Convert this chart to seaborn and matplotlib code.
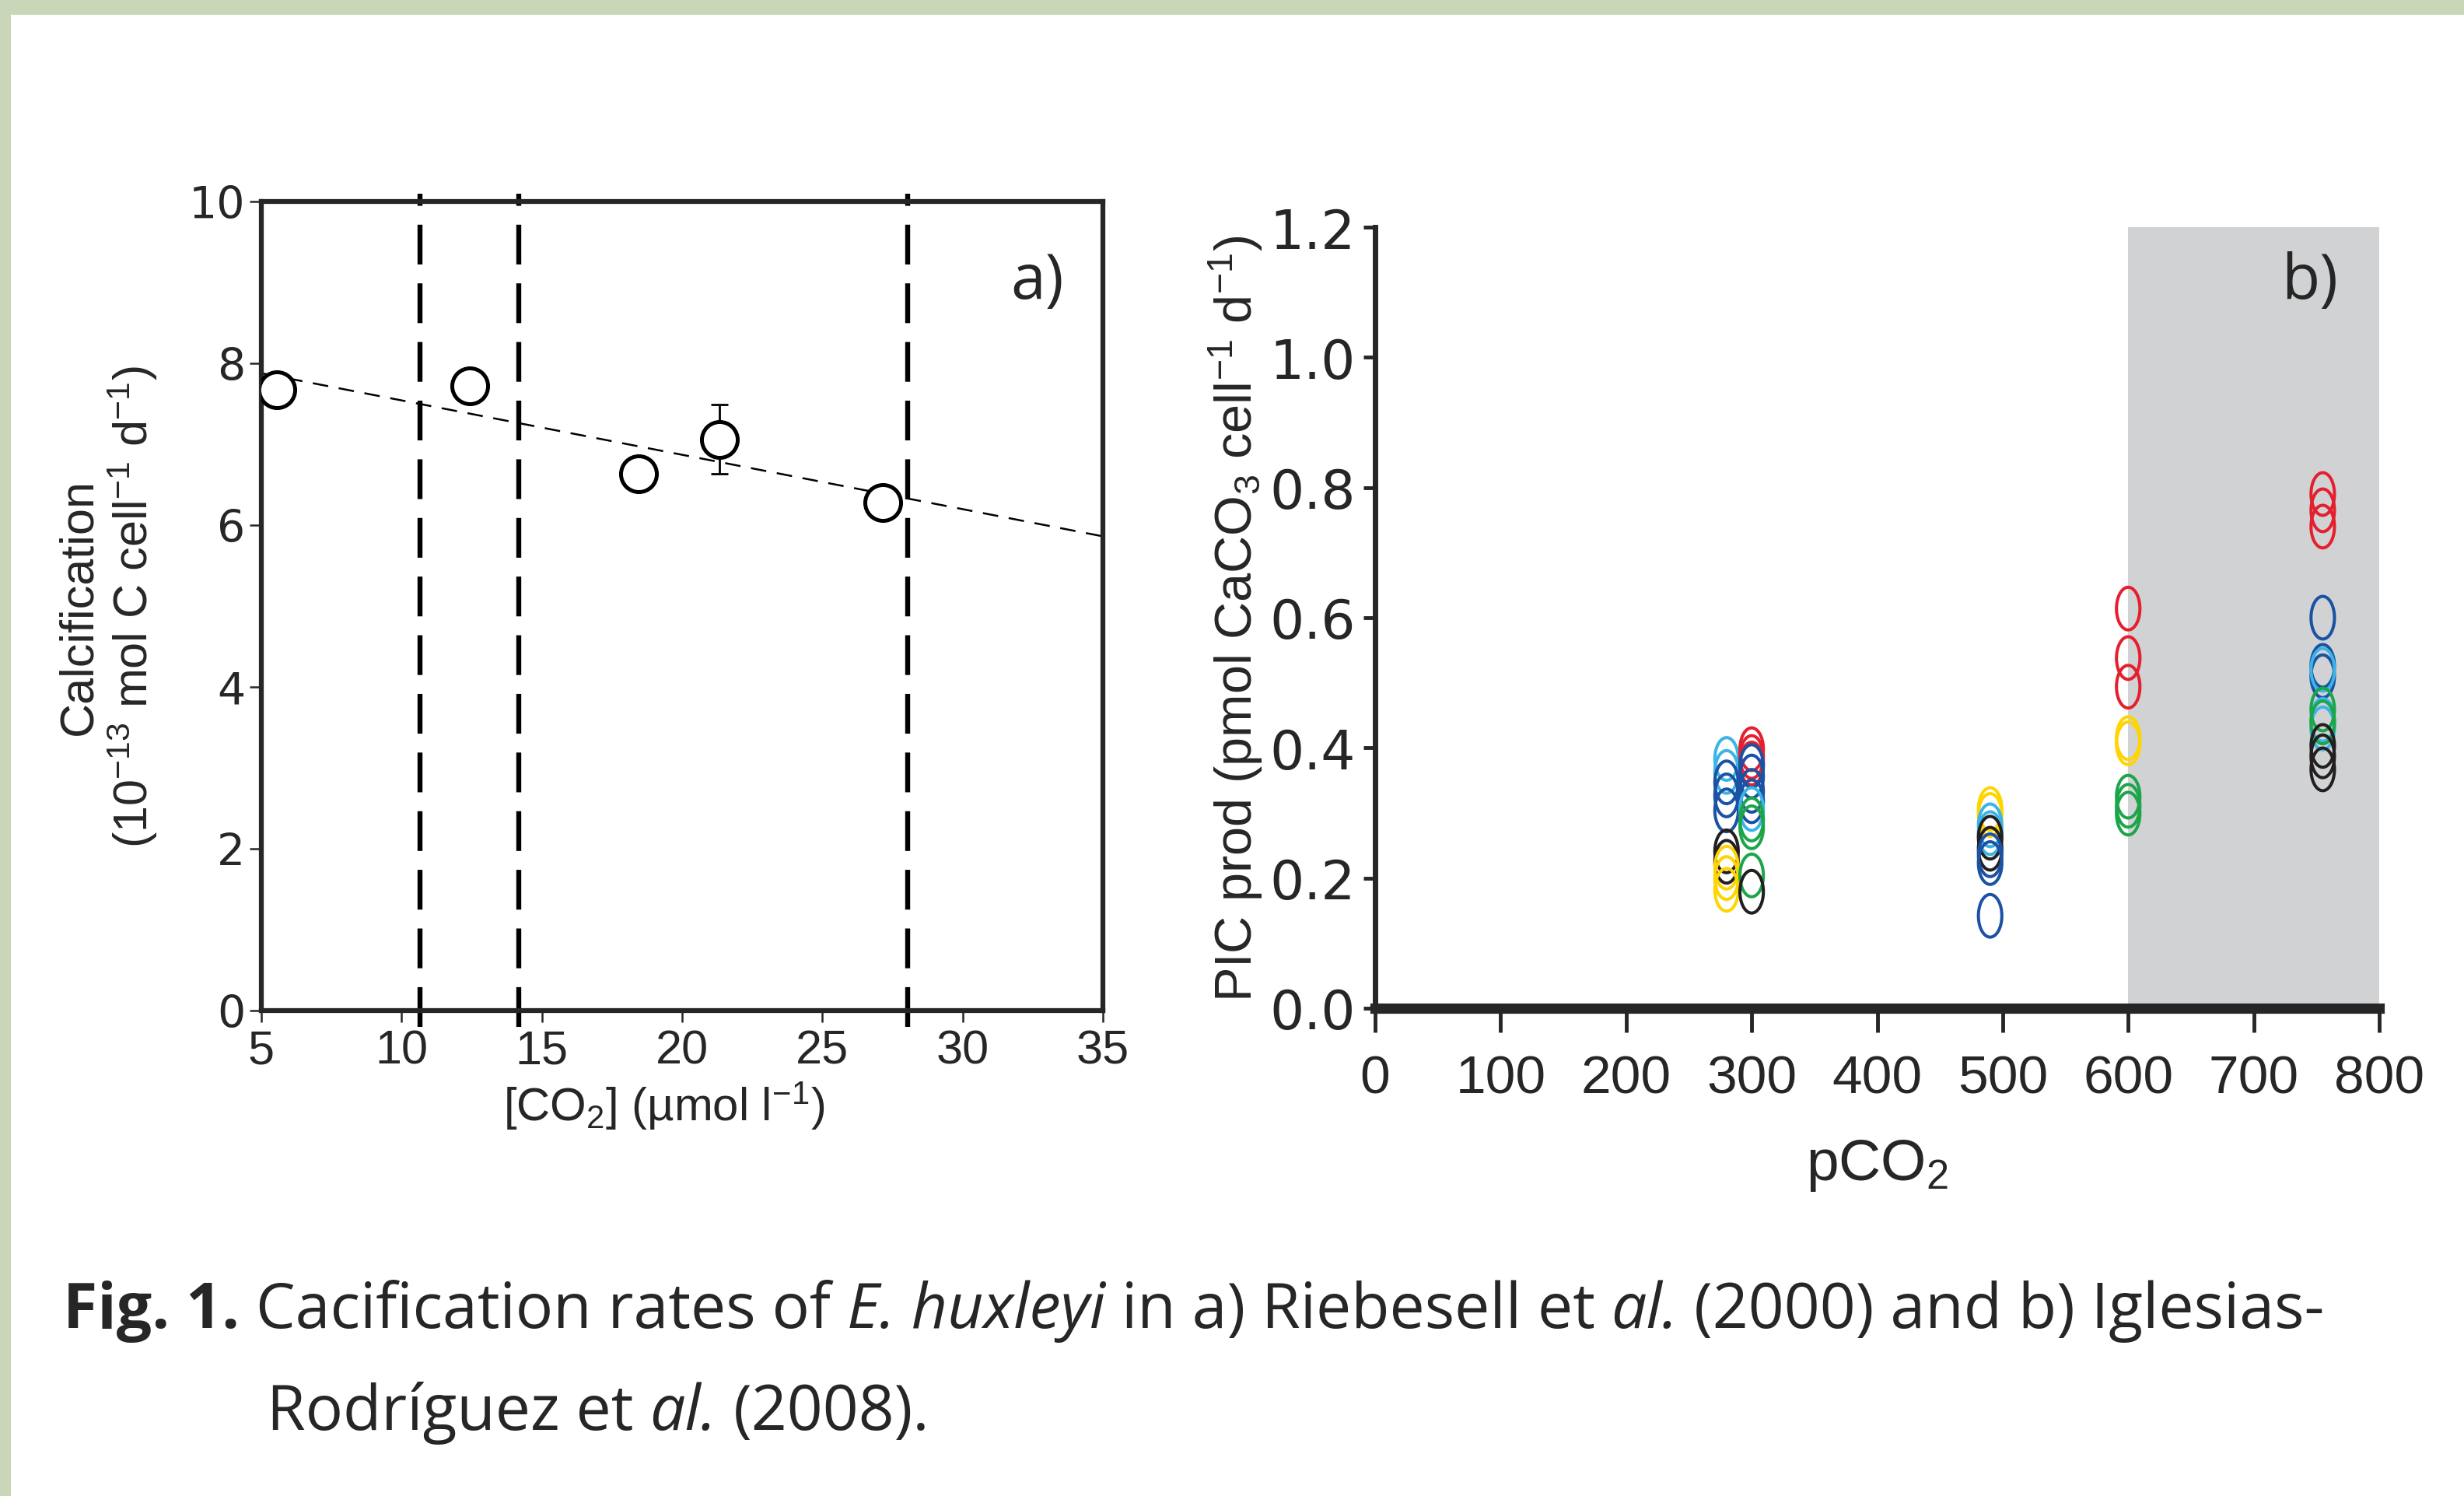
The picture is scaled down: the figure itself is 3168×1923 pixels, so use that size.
import numpy as np
import pandas as pd
import matplotlib
matplotlib.use("Agg")
import matplotlib.pyplot as plt
import seaborn as sns
from matplotlib.path import Path
from matplotlib.patches import Rectangle
from matplotlib import font_manager as fm

# Panel a: Riebesell et al. (2000)
co2_a = [5.56, 12.44, 18.44, 21.33, 27.16]
calc_a = [7.67, 7.72, 6.63, 7.06, 6.28]
err_a = [0, 0, 0, 0.43, 0]
cut_lines = [10.67, 14.18, 28.04]
a_xticks = [5, 10, 15, 20, 25, 30, 35]
a_yticks = [0, 2, 4, 6, 8, 10]

# Panel b: Iglesias-Rodriguez et al. (2008)
b_pco2 = [280, 280, 280, 280, 280, 280, 280, 280, 280, 280,
          300, 300, 300, 300, 300, 300, 300, 300, 300, 300, 300, 300,
          490, 490, 490, 490, 490, 490, 490, 490, 490,
          600, 600, 600, 600, 600, 600, 600, 600,
          755, 755, 755, 755, 755, 755, 755, 755, 755, 755, 755, 755, 755, 755]
b_pic = [0.383, 0.363, 0.347, 0.327, 0.304, 0.241, 0.225, 0.216, 0.200, 0.182,
         0.398, 0.386, 0.376, 0.372, 0.356, 0.334, 0.318, 0.306, 0.290, 0.278, 0.204, 0.179,
         0.306, 0.297, 0.281, 0.269, 0.262, 0.245, 0.235, 0.223, 0.142,
         0.614, 0.538, 0.494, 0.415, 0.407, 0.325, 0.311, 0.299,
         0.790, 0.765, 0.740, 0.600, 0.526, 0.510, 0.520, 0.443, 0.430, 0.459, 0.439, 0.403, 0.387, 0.367]
b_strain = ["lightblue", "lightblue", "blue", "blue", "blue", "black", "black", "yellow", "yellow", "yellow",
            "red", "red", "red", "blue", "blue", "blue", "blue", "lightblue", "green", "green", "green", "black",
            "yellow", "yellow", "lightblue", "lightblue", "black", "black", "blue", "blue", "blue",
            "red", "red", "red", "yellow", "yellow", "green", "green", "green",
            "red", "red", "red", "blue", "blue", "blue", "lightblue", "lightblue", "lightblue",
            "green", "green", "black", "black", "black"]
b_xticks = [0, 100, 200, 300, 400, 500, 600, 700, 800]
b_yticks = [0.0, 0.2, 0.4, 0.6, 0.8, 1.0, 1.2]

strain_colors = {"red": "#E5202E", "blue": "#1B52A4", "lightblue": "#3BB4E6",
                 "green": "#1DA54A", "yellow": "#FFD400", "black": "#231F20"}

sns.set_style("ticks")
installed = {f.name for f in fm.fontManager.ttflist}
narrow = "Liberation Sans Narrow" if "Liberation Sans Narrow" in installed else "Liberation Sans"
plt.rcParams["font.family"] = ["Liberation Sans", "DejaVu Sans"]
plt.rcParams["mathtext.fontset"] = "custom"
plt.rcParams["mathtext.rm"] = narrow
plt.rcParams["mathtext.it"] = narrow + ":italic"
cap_font = "Open Sans"

W, H = 3168, 1924
fig = plt.figure(figsize=(W / 100, H / 100), dpi=100)
fig.patch.set_facecolor("white")

# green frame of the page
green = "#C9D7B8"
fig.add_artist(Rectangle((0, 1 - 20 / H), 1, 20 / H, transform=fig.transFigure, color=green, lw=0))
fig.add_artist(Rectangle((0, 0), 14 / W, 1, transform=fig.transFigure, color=green, lw=0))

# ---------------- panel a ----------------
ax_a = fig.add_axes([336 / W, 1 - 1300 / H, 1082 / W, 1040 / H])
ax_a.set_xlim(5, 35)
ax_a.set_ylim(0, 10)
df_a = pd.DataFrame({"co2": co2_a, "calc": calc_a})

for xv in cut_lines:
    ax_a.axvline(xv, ymin=-0.02, ymax=1.01, color="black", lw=4.6,
                 ls=(0, (8, 3.8)), clip_on=False, zorder=1)

sns.regplot(data=df_a, x="co2", y="calc", ax=ax_a, ci=None, scatter=False,
            truncate=False, color="black",
            line_kws=dict(lw=1.8, ls=(0, (8, 5.5)), zorder=2))
ax_a.errorbar(co2_a, calc_a, yerr=err_a, fmt="none", ecolor="black",
              elinewidth=2, capsize=8, capthick=2, zorder=3)
sns.scatterplot(data=df_a, x="co2", y="calc", ax=ax_a, marker="o", s=1100,
                facecolor="white", edgecolor="black", linewidth=3.6, zorder=4)
ax_a.set_xlim(5, 35)
ax_a.set_ylim(0, 10)
ax_a.set_xticks(a_xticks)
ax_a.set_yticks(a_yticks)
for s in ax_a.spines.values():
    s.set_linewidth(4.5)
ax_a.tick_params(axis="y", direction="out", length=11, width=1.8, pad=4,
                 labelsize=41, labelfontfamily="DejaVu Sans")
ax_a.tick_params(axis="x", direction="out", length=11, width=1.8, pad=6,
                 labelsize=44)
ax_a.set_xlabel("[CO$_2$] (µmol l$^{-1}$)", fontsize=43)
ax_a.xaxis.set_label_coords(0.478, -0.085)
ax_a.set_ylabel("Calcification\n(10$^{-13}$ mol C cell$^{-1}$ d$^{-1}$)",
                fontsize=44, family=narrow, linespacing=1.1)
ax_a.yaxis.set_label_coords(-0.121, 0.5)
ax_a.text(0.954, 0.881, "a)", transform=ax_a.transAxes, ha="right",
          va="baseline", fontsize=58, family=cap_font)

# ---------------- panel b ----------------
ax_b = fig.add_axes([1768 / W, 1 - 1297 / H, 1291 / W, 1004 / H])
ax_b.axvspan(600, 800, color="#D1D2D4", lw=0, zorder=0)
df_b = pd.DataFrame({"pco2": b_pco2, "pic": b_pic, "strain": b_strain})
theta = np.linspace(0, 2 * np.pi, 61)
ellipse = Path(np.column_stack([0.55 * np.cos(theta), np.sin(theta)]), closed=True)
n0 = len(ax_b.collections)
sns.scatterplot(data=df_b, x="pco2", y="pic", hue="strain", palette=strain_colors,
                marker=ellipse, s=1560, linewidth=2.9, legend=False, ax=ax_b, zorder=3)
pts = ax_b.collections[n0]
pts.set_edgecolors(pts.get_facecolors())
pts.set_facecolors("none")

ax_b.set_xlim(0, 800)
ax_b.set_ylim(0, 1.2)
ax_b.set_xticks(b_xticks)
ax_b.set_yticks(b_yticks)
ax_b.set_yticklabels([f"{v:.1f}" for v in b_yticks])
ax_b.spines[["top", "right"]].set_visible(False)
ax_b.spines["left"].set_linewidth(5)
ax_b.spines["bottom"].set_linewidth(9.5)
ax_b.tick_params(axis="y", direction="out", length=11, width=3.5, pad=7,
                 labelsize=50, labelfontfamily="DejaVu Sans")
ax_b.tick_params(axis="x", direction="out", length=22, width=3.5, pad=20,
                 labelsize=50, labelfontfamily=narrow)
ax_b.set_xlabel("pCO$_2$", fontsize=54, family=narrow)
ax_b.xaxis.set_label_coords(0.5, -0.165)
ax_b.set_ylabel("PIC prod (pmol CaCO$_3$ cell$^{-1}$ d$^{-1}$)", fontsize=48, family=narrow)
ax_b.yaxis.set_label_coords(-0.110, 0.5)
ax_b.text(0.959, 0.909, "b)", transform=ax_b.transAxes, ha="right",
          va="baseline", fontsize=58, family=cap_font)

# ---------------- caption ----------------
renderer = fig.canvas.get_renderer()


def caption_line(x, y, pieces, size):
    p1 = fig.text(0, 0, "a a", fontsize=size, family=cap_font)
    p2 = fig.text(0, 0, "aa", fontsize=size, family=cap_font)
    space = (p1.get_window_extent(renderer).width - p2.get_window_extent(renderer).width) / W
    p1.remove()
    p2.remove()
    for txt, weight, style in pieces:
        t = fig.text(x, y, txt, fontsize=size, family=cap_font, fontweight=weight,
                     fontstyle=style, va="baseline", ha="left")
        x += t.get_window_extent(renderer).width / W + space


caption_line(81 / W, 1 - 1707 / H, [
    ("Fig. 1.", "bold", "normal"),
    ("Cacification rates of", "normal", "normal"),
    ("E. huxleyi", "normal", "italic"),
    ("in a) Riebesell et", "normal", "normal"),
    ("al.", "normal", "italic"),
    ("(2000) and b) Iglesias-", "normal", "normal"),
], 58)
caption_line(343 / W, 1 - 1838 / H, [
    ("Rodríguez et", "normal", "normal"),
    ("al.", "normal", "italic"),
    ("(2008).", "normal", "normal"),
], 58)

fig.savefig("out.png", dpi=100, facecolor="white")
